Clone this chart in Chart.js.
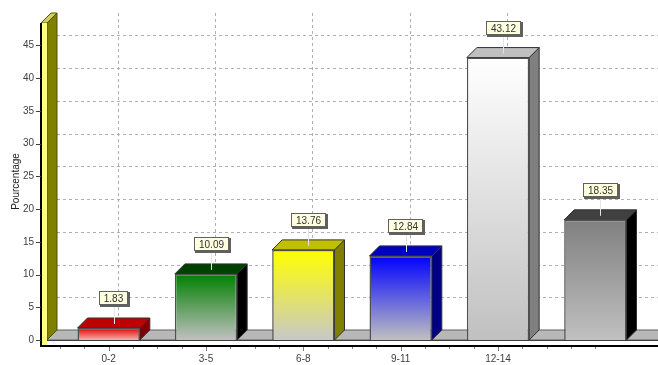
<!DOCTYPE html>
<html>
<head>
<meta charset="utf-8">
<script src="https://cdn.jsdelivr.net/npm/chart.js@4"></script>
<style>
html,body{margin:0;padding:0;background:#fff}
canvas{display:block}
</style>
</head>
<body>
<canvas id="c" width="658" height="365"></canvas>
<script>
const categories = ['0-2', '3-5', '6-8', '9-11', '12-14', ''];
const percentages = [1.83, 10.09, 13.76, 12.84, 43.12, 18.35];
const frontTop = ['#e80000', '#008000', '#ffff00', '#0000ff', '#ffffff', '#808080'];
const frontBottom = ['#f4b0b0', '#c0c0c0', '#c8c8c8', '#c0c0c0', '#c0c0c0', '#c0c0c0'];
const capColors = ['#c00000', '#004000', '#c0c000', '#0000c0', '#c0c0c0', '#404040'];
const sideColors = ['#800000', '#000000', '#808000', '#000080', '#808080', '#000000'];
const yMax = 48.4;
const yStep = 5;
const DEPTH = 10;
const AREA_TOP = 23;
const AREA_BOTTOM = 340;

const FAMILY = '"Liberation Sans", Arial, sans-serif';
const FONT = '10px ' + FAMILY;

function poly(ctx, pts, fill, stroke) {
  ctx.beginPath();
  pts.forEach((p, i) => i ? ctx.lineTo(p[0], p[1]) : ctx.moveTo(p[0], p[1]));
  ctx.closePath();
  ctx.fillStyle = fill;
  ctx.fill();
  if (stroke) { ctx.strokeStyle = stroke; ctx.lineWidth = 1; ctx.stroke(); }
}

// Back wall grid, floor and the extruded y-axis column behind the bars.
const stage = {
  id: 'stage',
  afterLayout(chart) {
    // pin the plot area's vertical extent
    const { x, y } = chart.scales;
    y.top = AREA_TOP; y.bottom = AREA_BOTTOM; y.height = AREA_BOTTOM - AREA_TOP;
    x.top = AREA_BOTTOM; x.bottom = chart.height; x.height = chart.height - AREA_BOTTOM;
    chart.chartArea.top = AREA_TOP;
    chart.chartArea.bottom = AREA_BOTTOM;
    chart.chartArea.height = AREA_BOTTOM - AREA_TOP;
    y.configure();
    x.configure();
  },
  beforeDatasetsDraw(chart) {
    const { ctx, scales: { x, y }, width } = chart;
    const base = y.getPixelForValue(0);
    const top = y.getPixelForValue(yMax);
    const wallL = 41, wallM = 47;
    ctx.save();

    ctx.strokeStyle = '#b0b0b0';
    ctx.lineWidth = 1;
    ctx.setLineDash([3, 3]);
    for (let v = yStep; v < yMax; v += yStep) {
      const py = Math.round(y.getPixelForValue(v) - DEPTH) + 0.5;
      ctx.beginPath(); ctx.moveTo(wallM + DEPTH, py); ctx.lineTo(width, py); ctx.stroke();
    }
    categories.slice(0, 5).forEach((c, i) => {
      const px = Math.round(x.getPixelForValue(i) + DEPTH) - 0.5;
      ctx.beginPath(); ctx.moveTo(px, top - DEPTH); ctx.lineTo(px, base - DEPTH); ctx.stroke();
    });
    ctx.setLineDash([]);

    // floor: top surface and front strip
    poly(ctx, [[wallM, base], [wallM + DEPTH, base - DEPTH], [width + 2, base - DEPTH], [width + 2, base]], '#b8b8b8', '#606060');
    ctx.fillStyle = '#ffffff';
    ctx.fillRect(wallL, base, width - wallL, 5);
    ctx.fillStyle = '#404040';
    ctx.fillRect(wallL, base, width - wallL, 1);
    ctx.fillStyle = '#000000';
    ctx.fillRect(wallL, base + 5, width - wallL, 2);

    // y-axis column
    poly(ctx, [[wallM, top], [wallM + DEPTH, top - DEPTH], [wallM + DEPTH, base - DEPTH], [wallM, base]], '#808000', '#505000');
    poly(ctx, [[wallL, top], [wallL + DEPTH, top - DEPTH], [wallM + DEPTH, top - DEPTH], [wallM, top]], '#d0d060', '#505000');
    ctx.fillStyle = '#ffff80';
    ctx.fillRect(wallL, top, wallM - wallL, base + 5 - top);
    ctx.fillStyle = '#000000';
    ctx.fillRect(wallL - 1, top, 2, base + 7 - top);

    // axis tick marks
    ctx.strokeStyle = '#404040';
    for (let v = 0; v < yMax; v += yStep) {
      const py = Math.round(y.getPixelForValue(v)) + 0.5;
      ctx.beginPath(); ctx.moveTo(36, py); ctx.lineTo(41, py); ctx.stroke();
    }
    ctx.strokeStyle = '#808080';
    const band = x.getPixelForValue(1) - x.getPixelForValue(0);
    for (let i = 0; i <= 22; i++) {
      const px = Math.round(x.left + i * band / 4) + 0.5;
      const len = i % 4 === 2 && i < 20 ? 4 : 2;
      ctx.beginPath(); ctx.moveTo(px, base + 7); ctx.lineTo(px, base + 7 + len); ctx.stroke();
    }

    // bar sides and caps, placed from each bar element
    const meta = chart.getDatasetMeta(0);
    meta.data.forEach((bar, i) => {
      const p = bar.getProps(['x', 'y', 'base', 'width'], true);
      const l = p.x - p.width / 2, r = p.x + p.width / 2;
      poly(ctx, [[r, p.y], [r + DEPTH, p.y - DEPTH], [r + DEPTH, p.base - DEPTH], [r, p.base]], sideColors[i], '#303030');
      poly(ctx, [[l, p.y], [l + DEPTH, p.y - DEPTH], [r + DEPTH, p.y - DEPTH], [r, p.y]], capColors[i], '#303030');
    });
    ctx.restore();
  },
  afterDatasetsDraw(chart) {
    const { ctx } = chart;
    ctx.save();
    ctx.font = FONT;
    ctx.textAlign = 'center';
    ctx.textBaseline = 'middle';
    chart.getDatasetMeta(0).data.forEach((bar, i) => {
      const p = bar.getProps(['x', 'y'], true);
      const cx = p.x + DEPTH / 2, cy = p.y - 30;
      const text = percentages[i].toFixed(2);
      const w = Math.round(ctx.measureText(text).width) + 10, h = 14;
      const bx = Math.round(cx - w / 2), by = Math.round(cy - h / 2);
      ctx.strokeStyle = '#e4e4e4';
      ctx.lineWidth = 1;
      ctx.beginPath();
      ctx.moveTo(Math.round(cx) + 0.5, by + h);
      ctx.lineTo(Math.round(cx) + 0.5, p.y - 4);
      ctx.stroke();
      // callout box with a heavier lower-right edge
      ctx.fillStyle = '#606060';
      ctx.fillRect(bx + 1, by + 1, w + 1, h + 1);
      ctx.fillStyle = '#ffffe0';
      ctx.fillRect(bx, by, w, h);
      ctx.strokeStyle = '#606060';
      ctx.strokeRect(bx + 0.5, by + 0.5, w - 1, h - 1);
      ctx.fillStyle = '#303030';
      ctx.fillText(text, bx + w / 2, by + h / 2 + 1);
    });
    ctx.restore();
  }
};

new Chart(document.getElementById('c'), {
  type: 'bar',
  data: {
    labels: categories,
    datasets: [{
      data: percentages,
      barPercentage: 0.64,
      categoryPercentage: 1,
      borderWidth: 1.5,
      borderColor: '#505050',
      backgroundColor(ctx) {
        const { chart, dataIndex } = ctx;
        const y = chart.scales.y;
        if (!y || dataIndex === undefined) return '#cccccc';
        const y0 = y.getPixelForValue(percentages[dataIndex]);
        const y1 = y.getPixelForValue(0);
        if (!isFinite(y0) || !isFinite(y1)) return '#cccccc';
        const g = chart.ctx.createLinearGradient(0, y0, 0, y1);
        g.addColorStop(0, frontTop[dataIndex]);
        g.addColorStop(1, frontBottom[dataIndex]);
        return g;
      }
    }]
  },
  options: {
    responsive: false,
    animation: false,
    events: [],
    layout: { autoPadding: false, padding: { top: 23, right: 14, bottom: 0, left: 0 } },
    plugins: { legend: { display: false }, tooltip: { enabled: false } },
    scales: {
      x: {
        afterFit(s) { s.height = 25; },
        grid: { display: false, drawTicks: false },
        border: { display: false },
        ticks: { color: '#404040', font: { family: FAMILY, size: 10 }, padding: 13, maxRotation: 0, autoSkip: false }
      },
      y: {
        min: 0,
        max: yMax,
        afterFit(s) { s.width = 60; },
        afterBuildTicks(s) {
          s.ticks = s.ticks.filter(t => t.value % yStep === 0);
        },
        grid: { display: false, drawTicks: false },
        border: { display: false },
        ticks: { stepSize: yStep, color: '#404040', font: { family: FAMILY, size: 10 }, padding: 26 },
        title: { display: true, text: 'Pourcentage', color: '#202020', font: { family: FAMILY, size: 10 }, padding: { top: 10, bottom: 0 } }
      }
    }
  },
  plugins: [stage]
});
</script>
</body>
</html>
